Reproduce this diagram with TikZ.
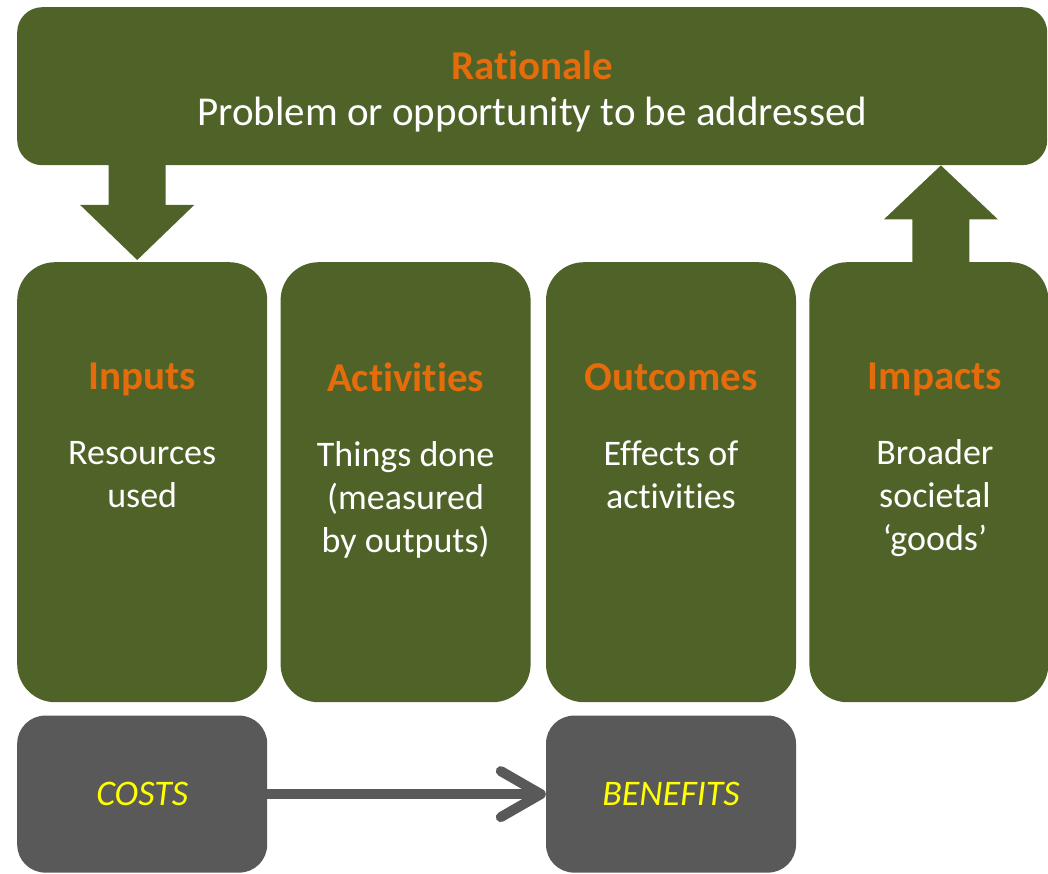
\documentclass[tikz,border=0pt]{standalone}
\usepackage{fontspec}
\setmainfont{Carlito}[Ligatures={NoCommon}]
\usetikzlibrary{positioning, arrows.meta, calc}

\definecolor{stagegreen}{HTML}{4F6228}
\definecolor{titleorange}{HTML}{E46C0A}
\definecolor{slategrey}{HTML}{595959}
\definecolor{signyellow}{HTML}{FFFF00}

\newcommand{\stagetitle}[1]{{\fontsize{41}{43}\selectfont\bfseries\color{titleorange}#1}}

\begin{document}
\begin{tikzpicture}[
      stage/.style={rectangle, fill=stagegreen, rounded corners=38pt,
      minimum width=250pt, minimum height=440pt, inner sep=0pt},
      stagetext/.style={align=center, inner sep=0pt, text=white,
      font=\fontsize{36}{43}\selectfont},
      ledger/.style={rectangle, fill=slategrey, rounded corners=28pt,
      minimum width=250pt, minimum height=157pt, inner sep=0pt,
      text=signyellow, font=\fontsize{36}{43}\selectfont\itshape},
      flow/.style={draw=slategrey, line width=10pt,
      -{Straight Barb[length=40pt, width=46pt, round]}}
    ]
    \useasboundingbox (0,0) rectangle (1048pt,-874pt);

    % Top box
    \node [rectangle, fill=stagegreen, rounded corners=25pt, anchor=north west,
      minimum width=1030pt, minimum height=158pt] (rationale) at (17pt,-7pt) {};
    \node [stagetext, font=\fontsize{41}{46}\selectfont, yshift=-5pt]
      (rationale-text) at (rationale.center)
      {\stagetitle{Rationale}\\Problem or opportunity to be addressed};

    % Stages
    \node [stage, anchor=north west] (inputs) at (17pt,-262pt) {};
    \node [stage, right=13pt of inputs] (activities) {};
    \node [stage, right=15pt of activities] (outcomes) {};
    \node [stage, right=13pt of outcomes, minimum width=239pt] (impacts) {};

    \node [stagetext, below=101pt of inputs.north] (inputs-text)
      {\stagetitle{Inputs}\\[32pt]Resources\\used};
    \node [stagetext, below=101pt of activities.north] (activities-text)
      {\stagetitle{Activities}\\[32pt]Things done\\(measured\\by outputs)};
    \node [stagetext, below=101pt of outcomes.north] (outcomes-text)
      {\stagetitle{Outcomes}\\[32pt]Effects of\\activities};
    \node [stagetext, below=101pt of impacts.north, xshift=6pt] (impacts-text)
      {\stagetitle{Impacts}\\[32pt]Broader\\societal\\‘goods’};

    % Costs and benefits
    \node [ledger, below=13pt of inputs] (costs) {COSTS};
    \node [ledger, below=13pt of outcomes] (benefits) {BENEFITS};
    \draw [flow] (costs) -- (benefits);

    % Block arrows
    \coordinate (downtip) at ($(inputs.north)+(-5pt,2pt)$);
    \coordinate (downtail) at ($(rationale.south -| downtip)+(0,1pt)$);
    \fill [stagegreen] ($(downtail)+(-28.5pt,0)$) |- ($(downtip)+(-57pt,55pt)$)
      -- (downtip) -- ($(downtip)+(57pt,55pt)$) -| ($(downtail)+(28.5pt,0)$) -- cycle;

    \coordinate (uptail) at ($(impacts.north)+(12pt,-1pt)$);
    \coordinate (uptip) at (rationale.south -| uptail);
    \fill [stagegreen] ($(uptail)+(-28.5pt,0)$) |- ($(uptip)+(-57pt,-54pt)$)
      -- (uptip) -- ($(uptip)+(57pt,-54pt)$) -| ($(uptail)+(28.5pt,0)$) -- cycle;
  \end{tikzpicture}
\end{document}
